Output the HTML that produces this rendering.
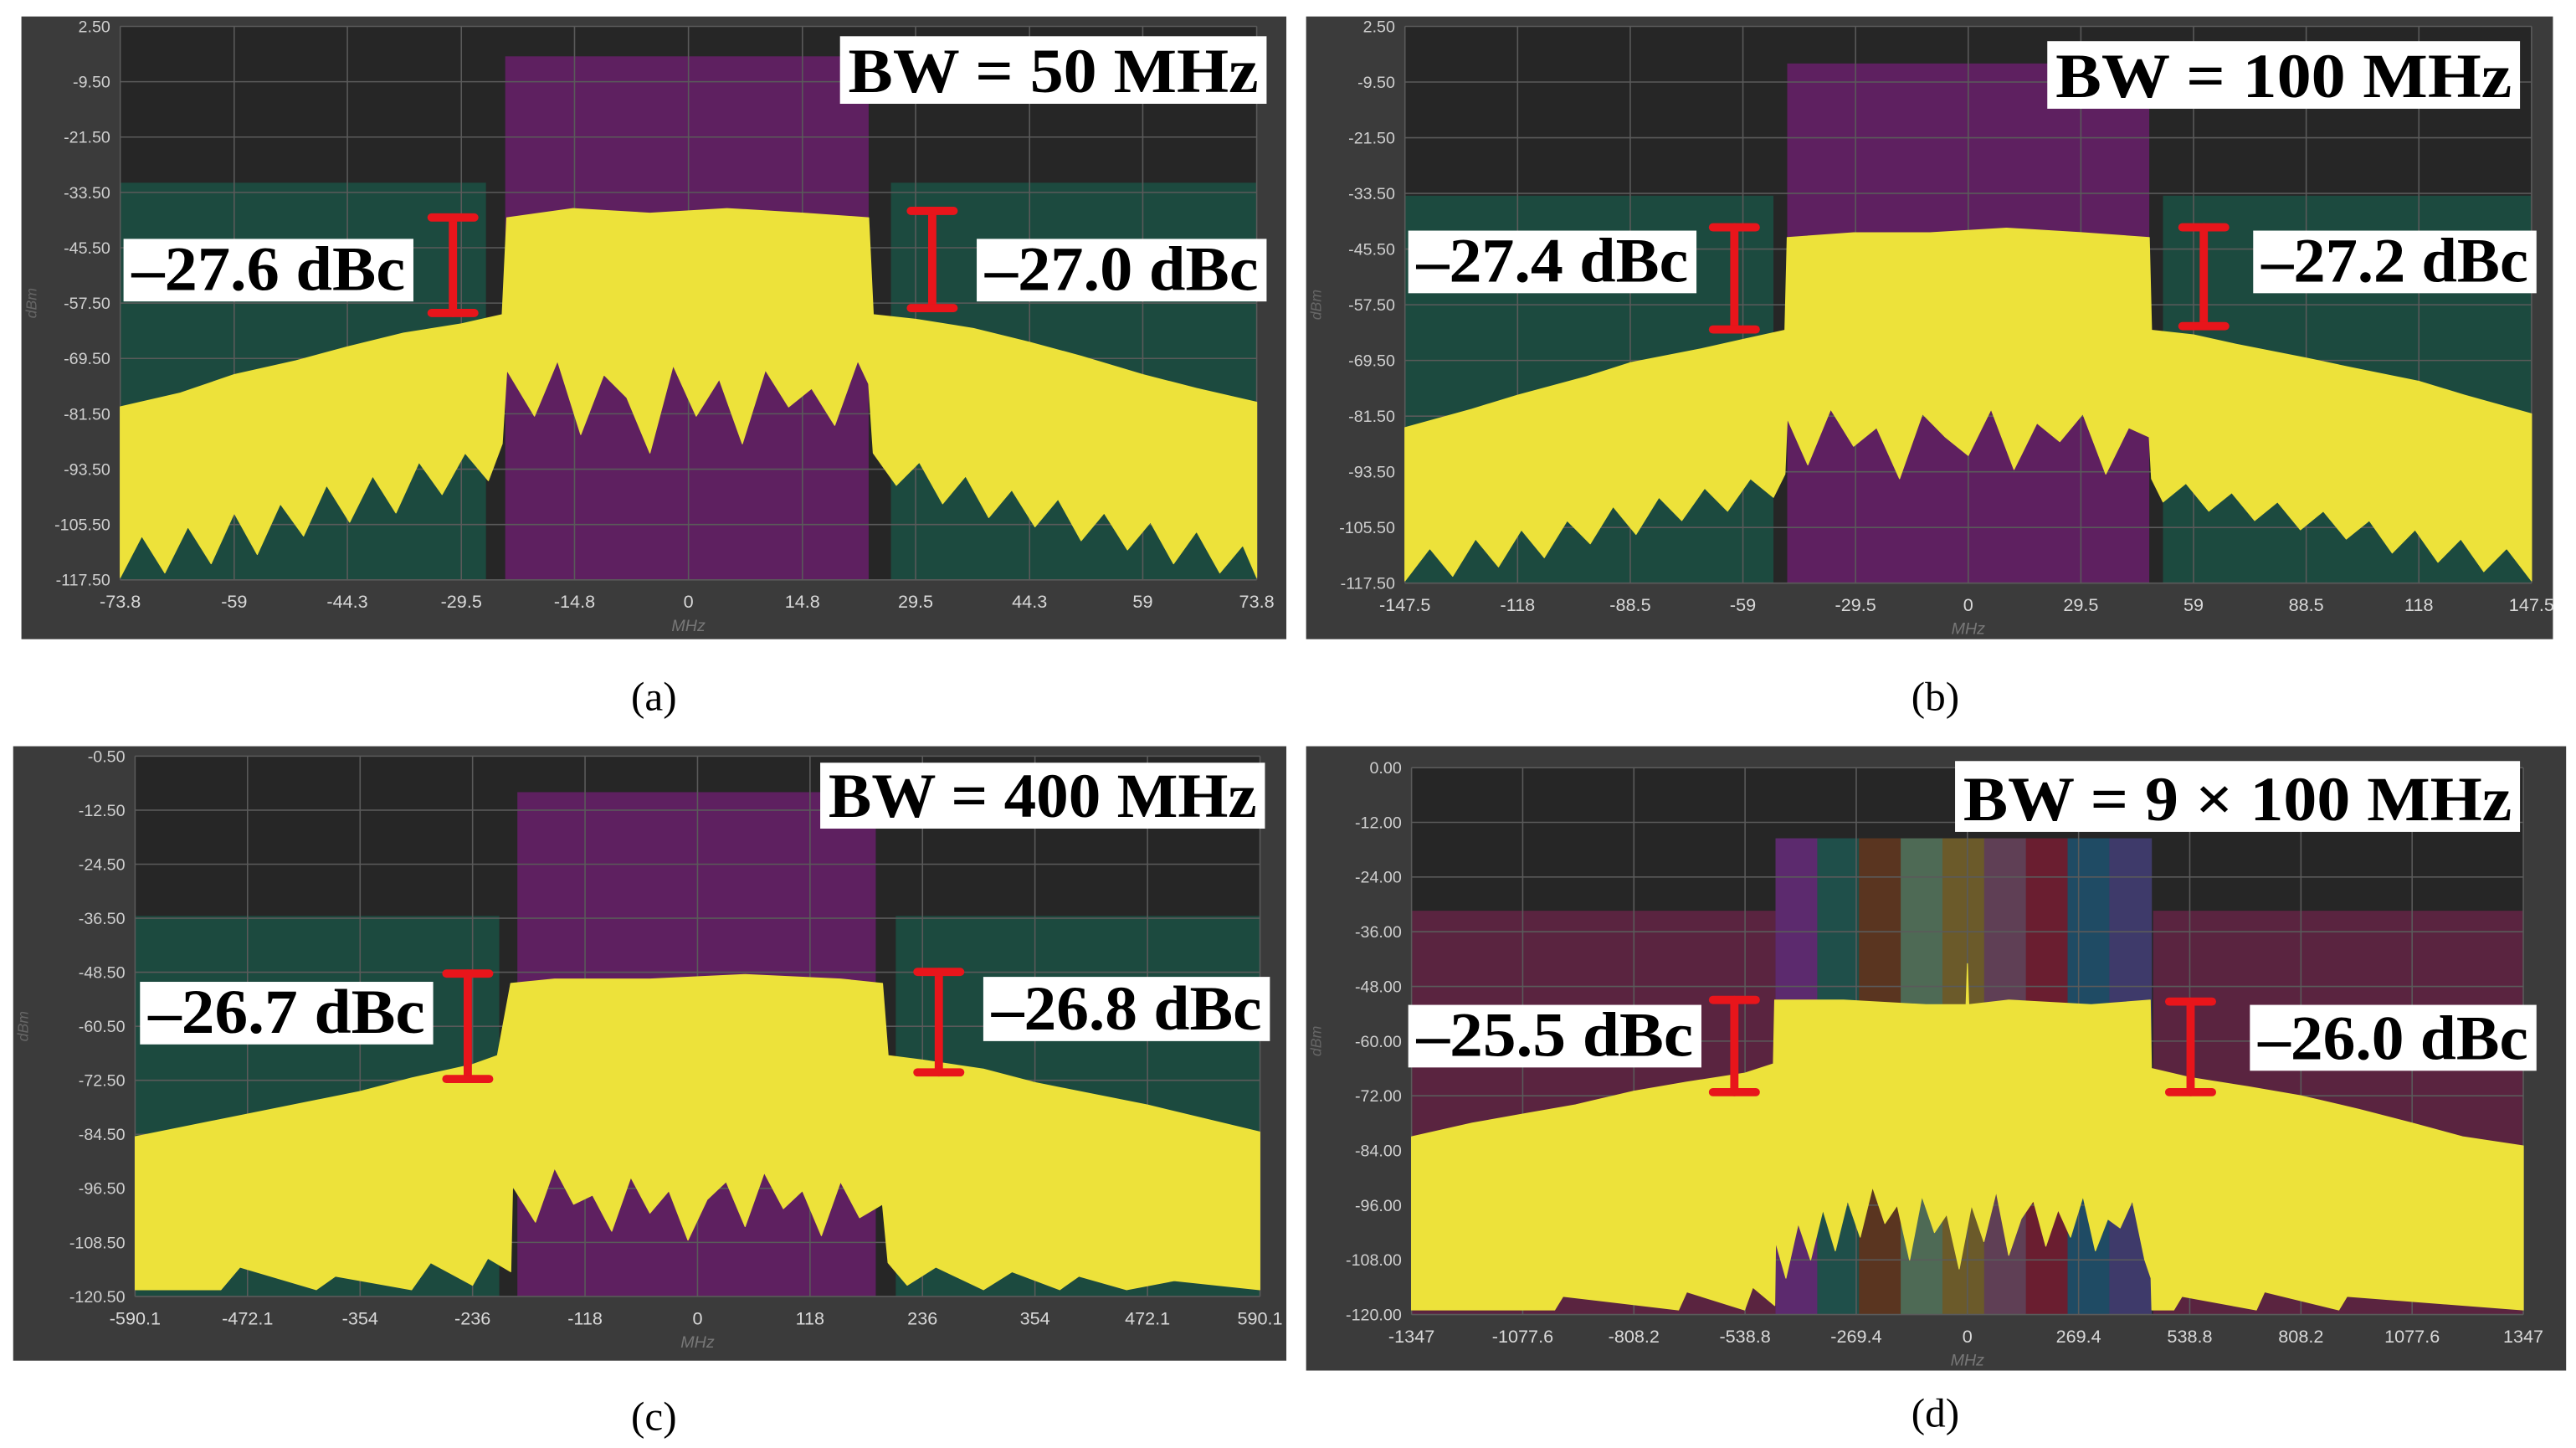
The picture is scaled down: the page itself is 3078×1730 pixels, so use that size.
<!DOCTYPE html>
<html><head><meta charset="utf-8"><style>
html,body{margin:0;padding:0;background:#fff;}
svg{display:block;}
</style></head><body>
<svg id="fig" width="3078" height="1730" viewBox="0 0 1564 879" preserveAspectRatio="none" xmlns="http://www.w3.org/2000/svg"></svg>
<script>
// ---------- data ----------
const aYTicks=[2.5,-9.5,-21.5,-33.5,-45.5,-57.5,-69.5,-81.5,-93.5,-105.5,-117.5];
const aXTicks=[-73.8,-59,-44.3,-29.5,-14.8,0,14.8,29.5,44.3,59,73.8];
const aUpF=[-73.8,-66,-59,-51,-44.3,-37,-29.5,-24.2,-23.6,-15,-5,5,15,23.4,24,29.5,37,44.3,51,59,66,73.8];
const aUpV=[-80,-77,-73,-70,-67,-64,-62,-60,-39,-37,-38,-37,-38,-39,-60,-61,-63,-66,-69,-73,-76,-79];
const aLoF=[-73.8,-71,-68,-65,-62,-59,-56,-53,-50,-47,-44,-41,-38,-35,-32,-29,-26,-24.2,-23.6,-20,-17,-14,-11,-8,-5,-2,1,4,7,10,13,16,19,22,23.4,24,27,30,33,36,39,42,45,48,51,54,57,60,63,66,69,72,73.8];
const aLoV=[-117,-108,-116,-106,-114,-103,-112,-101,-108,-97,-105,-95,-103,-92,-99,-90,-96,-88,-72,-82,-70,-86,-73,-78,-90,-71,-82,-74,-88,-72,-80,-76,-84,-70,-75,-90,-97,-92,-101,-95,-104,-98,-106,-100,-109,-103,-111,-105,-114,-107,-116,-110,-117];

const bYTicks=[2.5,-9.5,-21.5,-33.5,-45.5,-57.5,-69.5,-81.5,-93.5,-105.5,-117.5];
const bXTicks=[-147.5,-118,-88.5,-59,-29.5,0,29.5,59,88.5,118,147.5];
const bUpF=[-147.5,-130,-118,-100,-88.5,-70,-59,-48,-47.4,-30,-10,10,30,47.4,48,59,70,88.5,100,118,130,147.5];
const bUpV=[-84,-80,-77,-73,-70,-67,-65,-63,-43,-42,-42,-41,-42,-43,-63,-64,-66,-69,-71,-74,-77,-81];
const bLoF=[-147.5,-141,-135,-129,-123,-117,-111,-105,-99,-93,-87,-81,-75,-69,-63,-57,-51,-48,-47.4,-42,-36,-30,-24,-18,-12,-6,0,6,12,18,24,30,36,42,47.4,48,51,57,63,69,75,81,87,93,99,105,111,117,123,129,135,141,147.5];
const bLoV=[-117,-110,-116,-108,-114,-106,-112,-104,-109,-101,-107,-99,-104,-97,-102,-95,-99,-94,-82,-92,-80,-88,-84,-95,-81,-86,-90,-80,-93,-83,-87,-81,-94,-84,-86,-95,-100,-96,-102,-98,-104,-100,-106,-102,-108,-104,-111,-106,-113,-108,-115,-110,-117];

const cYTicks=[-0.5,-12.5,-24.5,-36.5,-48.5,-60.5,-72.5,-84.5,-96.5,-108.5,-120.5];
const cXTicks=[-590.1,-472.1,-354,-236,-118,0,118,236,354,472.1,590.1];
const cUpF=[-590,-472,-354,-300,-236,-210,-196,-150,-50,50,150,194,200,236,300,354,472,590];
const cUpV=[-85,-80,-75,-72,-69,-67,-51,-50,-50,-49,-50,-51,-67,-68,-70,-73,-78,-84];
const cLoF=[-590,-500,-480,-400,-380,-300,-280,-236,-220,-196,-194,-170,-150,-130,-110,-90,-70,-50,-30,-10,10,30,50,70,90,110,130,150,170,194,200,220,250,300,330,380,400,450,500,590];
const cLoV=[-119,-119,-114,-119,-116,-119,-113,-118,-112,-115,-96,-104,-92,-100,-98,-106,-94,-102,-97,-108,-99,-95,-105,-93,-101,-97,-107,-95,-103,-100,-113,-118,-114,-119,-115,-119,-116,-119,-117,-119];

const dYTicks=[0,-12,-24,-36,-48,-60,-72,-84,-96,-108,-120];
const dXTicks=[-1347,-1077.6,-808.2,-538.8,-269.4,0,269.4,538.8,808.2,1077.6,1347];
const dUpF=[-1347,-1200,-1077.6,-950,-808.2,-680,-538.8,-470,-467,-300,-100,-3,0,3,100,300,443,446,538.8,680,808.2,950,1077.6,1200,1347];
const dUpV=[-81,-78,-76,-74,-71,-69,-67,-65,-51,-51,-52,-52,-43,-52,-51,-52,-51,-66,-68,-70,-72,-75,-78,-81,-83];
const dLoF=[-1347,-1000,-980,-700,-680,-540,-520,-467,-465,-440,-410,-380,-350,-320,-290,-260,-230,-200,-170,-140,-110,-80,-50,-20,10,40,70,100,130,160,190,220,250,280,310,340,370,400,430,445,447,500,520,700,720,900,920,1347];
const dLoV=[-119,-119,-116,-119,-115,-119,-114,-118,-104,-112,-100,-108,-97,-106,-95,-103,-92,-100,-96,-108,-94,-102,-98,-110,-96,-104,-93,-107,-99,-95,-105,-97,-103,-94,-106,-99,-101,-95,-108,-112,-119,-119,-116,-119,-115,-119,-116,-119];
const dChannelColors=['#5c2a6e','#1f4f4a','#5a3520','#4e6a55','#6b5a2a','#5f3f55','#6a1e30','#1f4b64','#3e3a6a'];

// ---------- drawing ----------
const NS='http://www.w3.org/2000/svg';
const svg=document.getElementById('fig');
function mk(tag,attrs,parent){const e=document.createElementNS(NS,tag);for(const k in attrs)e.setAttribute(k,attrs[k]);(parent||svg).appendChild(e);return e;}

function panel(p,yT,xT,upF,upV,loF,loV){
  const g=mk('g',{});
  
  
  const f0=xT[0],f1=xT[xT.length-1],v0=yT[0],v1=yT[yT.length-1];
  const X=f=>p.px0+(f-f0)/(f1-f0)*(p.px1-p.px0);
  const Y=v=>p.py0+(v-v0)/(v1-v0)*(p.py1-p.py0);
  mk('rect',{x:p.fx0,y:p.fy0,width:p.fx1-p.fx0,height:p.fy1-p.fy0,fill:'#3b3b3b'},g);
  const bg=mk('rect',{x:p.px0,y:p.py0,width:p.px1-p.px0,height:p.py1-p.py0,fill:'#262626'},g);
  
  
  mk('rect',{x:X(f0),y:Y(p.maskTop),width:X(-p.maskEdge)-X(f0),height:p.py1-Y(p.maskTop),fill:p.maskColor},g);
  mk('rect',{x:X(p.maskEdge),y:Y(p.maskTop),width:X(f1)-X(p.maskEdge),height:p.py1-Y(p.maskTop),fill:p.maskColor},g);
  if(p.chColors){
    const n=p.chColors.length,w=(X(p.chR)-X(p.chL))/n;
    p.chColors.forEach((c,i)=>{const r=mk('rect',{x:X(p.chL)+i*w,y:Y(p.chTop),width:w+0.5,height:p.py1-Y(p.chTop),fill:c},g);
      
      });
  } else {
    const r=mk('rect',{x:X(p.chL),y:Y(p.chTop),width:X(p.chR)-X(p.chL),height:p.py1-Y(p.chTop),fill:'#5e2060'},g);
    
    
  }
  yT.forEach(v=>{mk('line',{x1:p.px0,x2:p.px1,y1:Y(v),y2:Y(v),stroke:'#5a5a5a','stroke-width':0.8},g);
    const t=mk('text',{x:p.px0-6,y:Y(v)+3.5,'text-anchor':'end','font-size':10,fill:'#cfcfcf','font-family':'Liberation Sans, sans-serif'},g);t.textContent=v.toFixed(2);
    
    });
  xT.forEach(f=>{mk('line',{x1:X(f),x2:X(f),y1:p.py0,y2:p.py1,stroke:'#5a5a5a','stroke-width':0.8},g);
    const t=mk('text',{x:X(f),y:p.py1+17,'text-anchor':'middle','font-size':11,fill:'#d8d8d8','font-family':'Liberation Sans, sans-serif'},g);t.textContent=String(f);
    
    });
  const mh=mk('text',{x:(p.px0+p.px1)/2,y:p.py1+31,'text-anchor':'middle','font-size':10,fill:'#777','font-style':'italic','font-family':'Liberation Sans, sans-serif'},g);mh.textContent='MHz';
  
  
  const yl=mk('text',{x:0,y:0,'text-anchor':'middle','font-size':9,fill:'#666','font-style':'italic','font-family':'Liberation Sans, sans-serif',transform:`translate(${p.fx0+9},${(p.py0+p.py1)/2}) rotate(-90)`},g);yl.textContent='dBm';
  
  
  let pts=upF.map((f,i)=>X(f).toFixed(1)+','+Y(upV[i]).toFixed(1));
  for(let i=loF.length-1;i>=0;i--)pts.push(X(loF[i]).toFixed(1)+','+Y(loV[i]).toFixed(1));
  const sp=mk('polygon',{points:pts.join(' '),fill:'#ede23a',stroke:'#ede23a','stroke-width':0.6,'stroke-linejoin':'round'},g);
  
  
  function box(b,txt,name){const r=mk('rect',{x:b[0],y:b[1],width:b[2]-b[0],height:b[3]-b[1],fill:'#fff'},g);
    
    
    const t=mk('text',{x:b[0]+5,y:b[3]-7,'font-size':b[4],'font-weight':'bold',fill:'#000','font-family':'Liberation Serif, serif',textLength:b[2]-b[0]-10,lengthAdjust:'spacingAndGlyphs'},g);t.textContent=txt;
    
    }
  function bar(b,name){const s=mk('g',{stroke:'#e8151b','stroke-width':5,'stroke-linecap':'round'},g);
    
    
    mk('line',{x1:b[0],x2:b[0],y1:b[1],y2:b[2]},s);
    mk('line',{x1:b[0]-13,x2:b[0]+13,y1:b[1],y2:b[1]},s);
    mk('line',{x1:b[0]-13,x2:b[0]+13,y1:b[2],y2:b[2]},s);}
  box(p.bw,p.bwText,'bandwidth-label');
  box(p.lb,p.lText,'left-aclr-label');
  box(p.rb,p.rText,'right-aclr-label');
  bar(p.lbar,'left-aclr-bar');bar(p.rbar,'right-aclr-bar');
  const c=mk('text',{x:p.cap[0],y:p.cap[1],'text-anchor':'middle','font-size':25,fill:'#000','font-family':'Liberation Serif, serif'},g);c.textContent=p.capText;
  
  
}

panel({id:'a',fx0:13,fy0:10,fx1:781,fy1:388,px0:73,px1:763,py0:16,py1:352,maskTop:-31.4,maskEdge:26.3,maskColor:'#1c4a3f',chL:-23.8,chR:23.4,chTop:-4,
  bw:[510,22,769,63,38],bwText:'BW = 50 MHz',lb:[75,145,251,183,38],lText:'\u201327.6 dBc',rb:[593,145,769,183,38],rText:'\u201327.0 dBc',
  lbar:[275,132,190],rbar:[566,128,187],cap:[397,431],capText:'(a)'},aYTicks,aXTicks,aUpF,aUpV,aLoF,aLoV);
panel({id:'b',fx0:793,fy0:10,fx1:1550,fy1:388,px0:853,px1:1537,py0:16,py1:354,maskTop:-34,maskEdge:51,maskColor:'#1c4a3f',chL:-47.4,chR:47.4,chTop:-5.5,
  bw:[1243,25,1530,66,38],bwText:'BW = 100 MHz',lb:[855,140,1030,178,38],lText:'\u201327.4 dBc',rb:[1368,140,1540,178,38],rText:'\u201327.2 dBc',
  lbar:[1053,138,200],rbar:[1338,138,198],cap:[1175,431],capText:'(b)'},bYTicks,bXTicks,bUpF,bUpV,bLoF,bLoV);
panel({id:'c',fx0:8,fy0:453,fx1:781,fy1:826,px0:82,px1:765,py0:459,py1:787,maskTop:-36,maskEdge:208,maskColor:'#1c4a3f',chL:-189,chR:187,chTop:-8.5,
  bw:[498,463,768,503,38],bwText:'BW = 400 MHz',lb:[85,596,263,634,38],lText:'\u201326.7 dBc',rb:[597,593,771,632,38],rText:'\u201326.8 dBc',
  lbar:[284,591,655],rbar:[570,590,651],cap:[397,868],capText:'(c)'},cYTicks,cXTicks,cUpF,cUpV,cLoF,cLoV);
panel({id:'d',fx0:793,fy0:453,fx1:1558,fy1:832,px0:857,px1:1532,py0:466,py1:798,maskTop:-31.4,maskEdge:450,maskColor:'#5a2440',chL:-465,chR:445,chTop:-15.5,chColors:dChannelColors,
  bw:[1187,462,1530,505,38],bwText:'BW = 9 \u00d7 100 MHz',lb:[855,610,1033,648,38],lText:'\u201325.5 dBc',rb:[1366,610,1540,650,38],rText:'\u201326.0 dBc',
  lbar:[1053,607,663],rbar:[1330,608,663],cap:[1175,866],capText:'(d)'},dYTicks,dXTicks,dUpF,dUpV,dLoF,dLoV);
</script>
</body></html>
